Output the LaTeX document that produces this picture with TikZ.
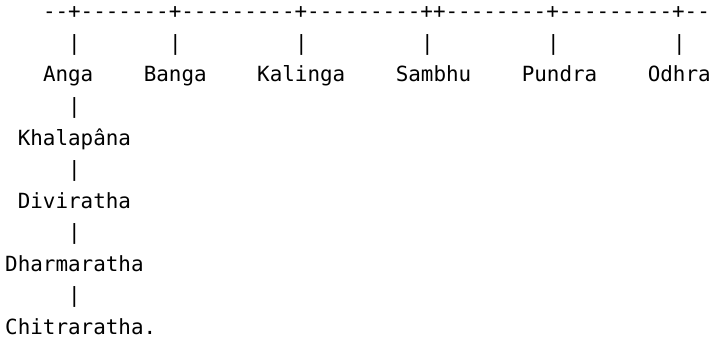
\documentclass[tikz,border=0pt]{standalone}
\usepackage{fontspec}
\setmonofont{DejaVu Sans Mono}
\usepackage{tikz}
\newcommand{\colw}{12.6}
\newcommand{\rowh}{31.5}
\tikzset{
  txt/.style={anchor=base west, inner sep=0pt, font=\fontsize{20.9}{25}\selectfont\ttfamily}
}

\begin{document}
\begin{tikzpicture}[x=1pt, y=-1pt]
    \useasboundingbox[fill=white] (0,0) rectangle (714,342);

    % top rule
    \node[txt] (rule) at ({5+3*\colw},{19+0*\rowh}) {--+-------+---------+---------++--------+---------+--};

    % the six sons
    \foreach \c/\n in {5/anga,13/banga,23/kalinga,33/sambhu,43/pundra,53/odhra}
        \node[txt] (bar-\n) at ({5+\c*\colw},{19+1*\rowh}) {|};
    \node[txt] (anga)    at ({5+3*\colw},{19+2*\rowh})  {Anga};
    \node[txt] (banga)   at ({5+11*\colw},{19+2*\rowh}) {Banga};
    \node[txt] (kalinga) at ({5+20*\colw},{19+2*\rowh}) {Kalinga};
    \node[txt] (sambhu)  at ({5+31*\colw},{19+2*\rowh}) {Sambhu};
    \node[txt] (pundra)  at ({5+41*\colw},{19+2*\rowh}) {Pundra};
    \node[txt] (odhra)   at ({5+51*\colw},{19+2*\rowh}) {Odhra};

    % line of Anga
    \foreach \r/\n in {3/khalapana,5/diviratha,7/dharmaratha,9/chitraratha}
        \node[txt] (bar-\n) at ({5+5*\colw},{19+\r*\rowh}) {|};
    \node[txt] (khalapana)   at ({5+1*\colw},{19+4*\rowh})  {Khalapâna};
    \node[txt] (diviratha)   at ({5+1*\colw},{19+6*\rowh})  {Diviratha};
    \node[txt] (dharmaratha) at ({5+0*\colw},{19+8*\rowh})  {Dharmaratha};
    \node[txt] (chitraratha) at ({5+0*\colw},{19+10*\rowh}) {Chitraratha.};
\end{tikzpicture}
\end{document}
